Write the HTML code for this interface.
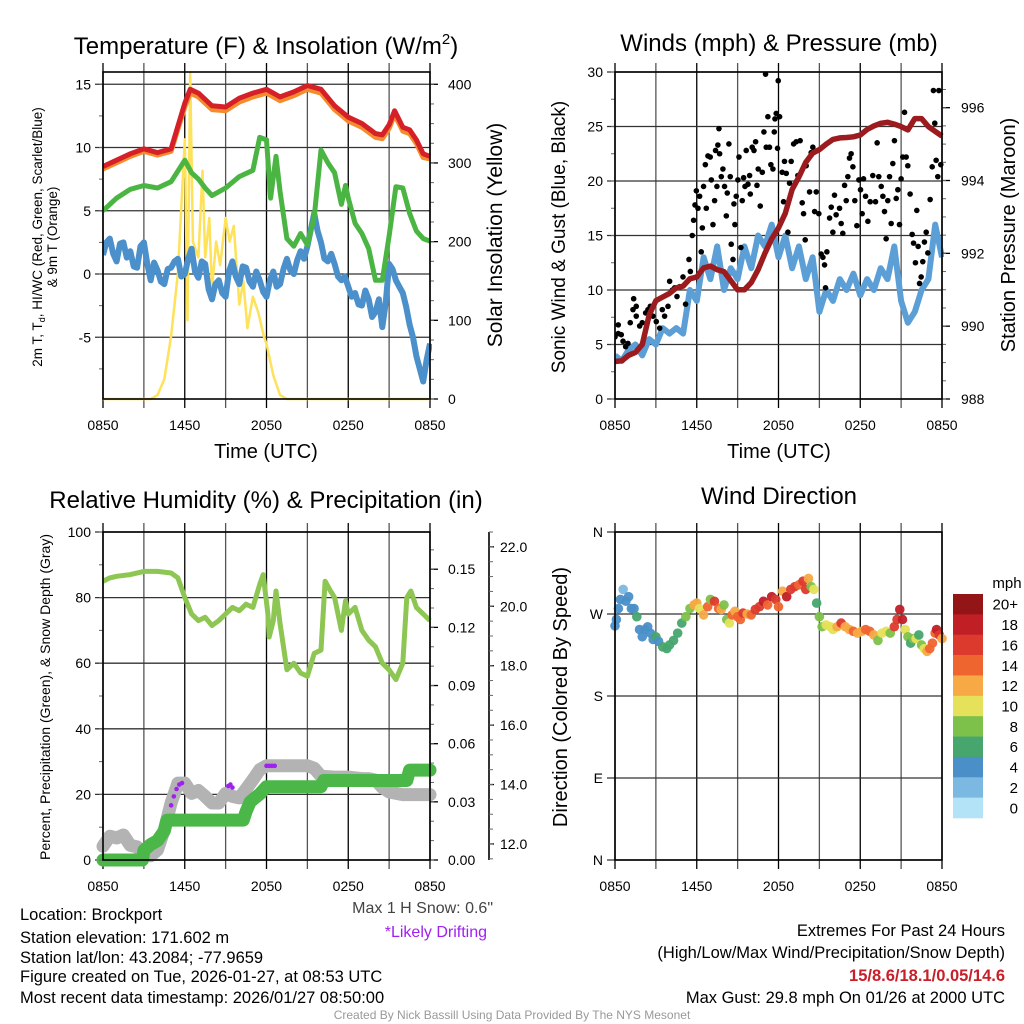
<!DOCTYPE html>
<html><head><meta charset="utf-8"><style>
html,body{margin:0;padding:0;background:#fff;}
svg{display:block;font-family:"Liberation Sans",sans-serif;}
</style></head><body>
<svg id="fig" width="1024" height="1024" viewBox="0 0 1024 1024" xmlns="http://www.w3.org/2000/svg">
<rect x="0" y="0" width="1024" height="1024" fill="#fff"/>
<g id="layer-back"></g>
<g id="layer-data"></g>
<g id="layer-front"></g>
<g id="layer-text" fill="#000">
<text x="266" y="54" font-size="24" text-anchor="middle">Temperature (F) &amp; Insolation (W/m<tspan font-size="15" dy="-10">2</tspan><tspan dy="10">)</tspan></text>
<text x="779" y="51" font-size="24" text-anchor="middle">Winds (mph) &amp; Pressure (mb)</text>
<text x="266" y="508" font-size="24" text-anchor="middle">Relative Humidity (%) &amp; Precipitation (in)</text>
<text x="779" y="504" font-size="24" text-anchor="middle">Wind Direction</text>
<text x="266" y="458" font-size="20" text-anchor="middle">Time (UTC)</text>
<text x="779" y="458" font-size="20" text-anchor="middle">Time (UTC)</text>
<text transform="translate(42,237) rotate(-90)" font-size="13.5" text-anchor="middle">2m T, T<tspan font-size="9" dy="3">d</tspan><tspan dy="-3">, HI/WC (Red, Green, Scarlet/Blue)</tspan></text>
<text transform="translate(57,237) rotate(-90)" font-size="13.5" text-anchor="middle">&amp; 9m T (Orange)</text>
<text transform="translate(502,235) rotate(-90)" font-size="21" text-anchor="middle">Solar Insolation (Yellow)</text>
<text transform="translate(565,237) rotate(-90)" font-size="19" text-anchor="middle">Sonic Wind &amp; Gust (Blue, Black)</text>
<text transform="translate(1015,235) rotate(-90)" font-size="20" text-anchor="middle">Station Pressure (Maroon)</text>
<text transform="translate(50,697) rotate(-90)" font-size="14" text-anchor="middle">Percent, Precipitation (Green), &amp; Snow Depth (Gray)</text>
<text transform="translate(567,697) rotate(-90)" font-size="20" text-anchor="middle">Direction (Colored By Speed)</text>
<text x="1007" y="588" font-size="15" text-anchor="middle">mph</text>
<text x="20" y="920" font-size="16.5">Location: Brockport</text>
<text x="20" y="943" font-size="16.5">Station elevation: 171.602 m</text>
<text x="20" y="963" font-size="16.5">Station lat/lon: 43.2084; -77.9659</text>
<text x="20" y="982" font-size="16.5">Figure created on Tue, 2026-01-27, at 08:53 UTC</text>
<text x="20" y="1003" font-size="16.5">Most recent data timestamp: 2026/01/27 08:50:00</text>
<text x="493" y="913" font-size="16" text-anchor="end" fill="#444">Max 1 H Snow: 0.6"</text>
<text x="487" y="937" font-size="16" text-anchor="end" fill="#a020f0">*Likely Drifting</text>
<text x="1005" y="936" font-size="16.5" text-anchor="end">Extremes For Past 24 Hours</text>
<text x="1005" y="958" font-size="16.5" text-anchor="end">(High/Low/Max Wind/Precipitation/Snow Depth)</text>
<text x="1005" y="981" font-size="16.5" font-weight="bold" text-anchor="end" fill="#c8202a">15/8.6/18.1/0.05/14.6</text>
<text x="1005" y="1003" font-size="16.5" text-anchor="end">Max Gust: 29.8 mph On 01/26 at 2000 UTC</text>
<text x="512" y="1019" font-size="12" text-anchor="middle" fill="#999">Created By Nick Bassill Using Data Provided By The NYS Mesonet</text>
</g>
</svg>
<script>
// ===== DATA =====
const xTickHours = [0, 6, 12, 18, 24];
const xTickLabels = ["0850", "1450", "2050", "0250", "0850"];
// Temperature panel
const tempTimes = [0,1,2,3,4,5,6,6.4,7,8,9,10,11,12,13,14,15,16,17,18,19,20,20.5,21,21.4,22,22.5,23,23.5,24];
const tempValues = [8.5,9.0,9.5,9.9,9.6,9.9,13.5,14.6,14.3,13.3,13.2,13.9,14.3,14.6,14.0,14.4,14.9,14.6,13.3,12.4,11.9,11.1,11.0,11.8,12.9,11.6,11.4,10.6,9.5,9.3];
const temp9mValues = [8.3,8.8,9.3,9.7,9.4,9.7,13.2,14.3,14.0,13.0,12.9,13.6,14.0,14.3,13.7,14.1,14.6,14.3,13.0,12.1,11.6,10.8,10.7,11.5,12.6,11.3,11.1,10.3,9.2,9.1];
const dewTimes = [0,1,2,3,4,5,6,6.5,7,7.5,8,9,10,11,11.5,12,12.3,12.7,13,13.5,14,14.5,15,15.5,16,16.5,17,17.5,17.8,18,18.5,19,19.5,20,20.5,21,21.5,22,22.5,23,23.5,24];
const dewValues = [5.0,6.0,6.7,7.0,6.8,7.3,9.0,8.0,7.5,6.8,6.2,6.8,7.7,8.2,10.8,10.6,6.0,9.3,6.5,2.8,2.2,3.2,2.3,4.5,9.8,8.8,8.0,5.5,7.0,6.0,4.0,3.2,2.0,-0.5,-0.5,3.0,6.9,6.8,4.8,3.4,2.8,2.6];
const chillTimes = [0,0.25,0.5,0.75,1,1.25,1.5,1.75,2,2.25,2.5,2.75,3,3.25,3.5,3.75,4,4.25,4.5,4.75,5,5.25,5.5,5.75,6,6.25,6.5,6.75,7,7.25,7.5,7.75,8,8.25,8.5,8.75,9,9.25,9.5,9.75,10,10.25,10.5,10.75,11,11.25,11.5,11.75,12,12.25,12.5,12.75,13,13.25,13.5,13.75,14,14.25,14.5,14.75,15,15.25,15.5,15.75,16,16.25,16.5,16.75,17,17.25,17.5,17.75,18,18.25,18.5,18.75,19,19.25,19.5,19.75,20,20.25,20.5,20.75,21,21.25,21.5,21.75,22,22.25,22.5,22.75,23,23.25,23.5,23.75,24];
const chillValues = [1.5,2.5,2.8,1.6,1.0,2.4,2.5,1.3,1.8,0.6,0.5,2.2,2.5,0.8,-0.5,0.9,0.3,-0.6,-0.8,0.4,0.5,1.0,1.2,-0.2,0.0,1.2,2.0,0.2,-0.3,1.0,0.8,-1.2,-2.0,-0.8,-0.5,-1.5,-1.8,0.2,1.0,-0.2,-0.8,0.6,0.5,-0.6,-1.0,0.2,-0.5,-1.4,-1.8,-0.5,0.2,-1.0,-0.8,0.4,1.2,0.3,0.0,1.1,1.8,1.2,2.2,3.5,4.8,3.4,2.5,1.2,1.0,1.6,0.8,-0.2,-0.5,-0.2,-1.0,-1.8,-1.5,-2.4,-2.5,-1.3,-2.0,-3.4,-3.0,-2.0,-4.2,-2.3,0.8,0.4,-0.5,-1.0,-1.5,-2.6,-4.0,-5.0,-6.5,-7.5,-8.5,-6.8,-5.5];
const solarTimes = [0,3.5,4,4.5,5,5.5,6,6.2,6.4,6.6,7,7.3,7.5,7.8,8,8.3,8.6,9,9.3,9.6,10,10.3,10.6,11,11.4,11.8,12,12.5,13,13.5,24];
const solarValues = [0,0,5,25,80,160,330,100,415,200,180,290,180,230,140,200,170,230,200,220,120,150,90,130,110,80,70,30,5,0,0];
const tempLeftTicks = [-5,0,5,10,15];
const solarTicks = [0,100,200,300,400];
// Wind panel
const windTimes = [0,0.5,1,1.5,2,2.5,3,3.5,4,4.5,5,5.5,6,6.5,7,7.5,8,8.5,9,9.5,10,10.5,11,11.5,12,12.5,13,13.5,14,14.5,15,15.5,16,16.5,17,17.5,18,18.5,19,19.5,20,20.5,21,21.5,22,22.5,23,23.5,24];
const windValues = [4,3.5,4.5,5,4,5.5,5,6.5,6,6.5,6,10,9,13,11,14,10,12,11,14,12,15,14,16,13,15,12,14,11,13,8,10,9,11,10,11.5,9.5,11,10,12,11,14,9,7,8,10,11,16,13];
const gustTimes = [0.0,0.24,0.24,0.46,0.59,0.78,0.95,1.12,1.32,1.37,1.56,1.56,1.81,2.0,2.25,2.42,2.59,2.79,3.03,3.28,3.47,3.64,3.89,4.01,4.21,4.38,4.55,4.74,4.99,5.18,5.43,5.53,5.67,5.77,5.87,5.97,6.09,6.21,6.33,6.41,6.5,6.63,6.7,6.82,6.99,7.07,7.19,7.31,7.38,7.48,7.55,7.63,7.68,7.8,7.92,8.04,8.17,8.24,8.36,8.46,8.53,8.66,8.73,8.8,8.9,9.02,9.1,9.24,9.34,9.44,9.54,9.63,9.76,9.88,9.93,10.07,10.2,10.32,10.42,10.51,10.66,10.81,10.93,11.05,11.1,11.22,11.34,11.44,11.59,11.69,11.74,11.83,11.93,11.98,12.08,12.27,12.37,12.44,12.57,12.69,12.81,12.93,13.11,13.3,13.42,13.59,13.74,13.84,13.96,14.03,14.28,14.4,14.52,14.65,14.77,14.96,15.13,15.26,15.38,15.45,15.55,15.75,15.87,15.99,16.11,16.23,16.48,16.6,16.72,16.85,16.97,17.09,17.21,17.33,17.46,17.6,17.75,17.9,18.02,18.14,18.24,18.39,18.56,18.73,18.92,19.12,19.24,19.36,19.54,19.66,19.78,19.9,20.02,20.15,20.27,20.39,20.51,20.64,20.76,20.88,21.0,21.12,21.25,21.37,21.49,21.66,21.81,21.91,22.05,22.15,22.25,22.35,22.47,22.59,22.71,22.84,22.96,23.13,23.28,23.37,23.47,23.57,23.69,23.77,23.91];
const gustValues = [5.7,6.0,6.8,5.9,5.3,4.8,5.1,7.0,8.2,9.2,8.5,7.6,6.7,7.0,7.9,8.2,8.5,7.6,7.1,6.5,8.2,7.6,8.5,10.8,10.0,10.2,9.4,10.3,11.2,8.7,12.8,11.7,15.0,16.4,17.8,19.1,17.5,18.6,13.5,15.7,19.5,21.5,17.5,22.3,22.2,20.1,16.0,18.2,22.8,19.5,23.3,24.8,22.5,20.4,21.1,19.5,16.8,18.9,23.4,20.4,14.2,12.8,17.9,16.0,18.6,20.1,22.2,13.9,18.2,20.3,19.5,22.8,19.7,20.5,18.8,23.1,22.8,23.6,19.6,21.1,17.7,20.8,24.5,29.8,23.1,25.9,23.1,21.5,21.1,24.5,25.7,26.2,23.0,29.2,25.9,20.8,18.1,21.8,20.7,15.3,19.8,21.8,23.4,23.6,20.5,23.7,18.0,17.0,14.6,21.4,19.0,22.6,23.1,17.2,19.0,17.0,13.3,13.0,12.3,10.2,13.5,16.6,17.6,15.3,18.7,16.9,17.5,16.1,15.2,19.6,18.2,20.4,22.1,22.5,21.3,18.2,15.9,20.1,19.2,17.0,20.2,18.6,16.3,18.1,20.5,18.1,23.5,20.4,19.5,18.6,17.2,14.7,18.2,20.4,16.1,21.6,23.7,18.4,19.2,16.0,20.2,22.2,26.3,22.2,21.4,18.8,15.1,14.3,12.5,17.3,14.0,10.6,11.2,12.6,14.4,15.3,13.4,18.3,21.3,28.3,25.3,21.9,20.4,28.3,21.5];
const pressTimes = [0,0.5,1,1.5,2,2.5,3,3.5,4,4.5,5,5.5,6,6.5,7,7.5,8,8.5,9,9.5,10,10.5,11,11.5,12,12.5,13,13.5,14,14.5,15,15.5,16,16.5,17,17.5,18,18.5,19,19.5,20,20.5,21,21.5,22,22.5,23,23.5,24];
const pressValues = [989.03,989.05,989.2,989.28,989.5,990.3,990.7,990.8,990.9,991.05,991.1,991.3,991.35,991.6,991.65,991.55,991.5,991.25,991.0,991.0,991.2,991.55,992.0,992.4,992.7,993.1,993.75,994.1,994.5,994.75,994.85,995.0,995.13,995.17,995.18,995.2,995.25,995.4,995.5,995.57,995.6,995.55,995.48,995.39,995.7,995.7,995.48,995.35,995.22];
const windTicks = [0,5,10,15,20,25,30];
const pressTicks = [988,990,992,994,996];
// Humidity panel
const rhTimes = [0,0.5,1,2,3,4,5,5.5,6,6.5,7,7.5,8,8.5,9,9.5,10,10.5,11,11.5,11.76,12.1,12.2,12.5,12.7,13,13.5,14,14.5,15,15.5,16,16.3,16.7,17,17.5,17.8,18,18.5,19,19.5,20,20.5,21,21.5,22,22.3,22.6,23,23.5,24];
const rhValues = [85,86,86.5,87,88,88,87.5,86,80,75,73,74,71.5,73,75,77,76,78,77,84,87,75,68,73,82,72,58,60,57,56,63,64,85,82,80,70,79,75,77,70,67,65,60,58,55,60,80,82,77,75,73];
const snowTimes = [0,0.5,1,1.5,2,2.5,3,3.5,4,4.5,5,5.5,6,6.5,7,7.5,8,8.5,9,9.5,10,10.5,11,11.5,12,13,14,15,15.5,16,17,18,19,19.5,20,20.5,21,22,23,23.5,24];
const snowValues = [11.92,12.26,12.2,12.3,11.95,11.9,11.65,11.6,11.8,12.48,13.38,14.05,14.05,13.7,13.8,13.6,13.38,13.38,13.7,13.6,13.55,13.85,14.16,14.5,14.63,14.63,14.63,14.63,14.55,14.28,14.25,14.25,14.2,14.2,14.15,13.9,13.75,13.66,13.66,13.66,13.66];
const driftTimes = [4.8,5.0,5.2,5.4,5.6,5.8,9.2,9.35,9.5,12.0,12.2,12.4,12.6];
const driftValues = [12.9,13.3,13.6,13.85,14.0,14.05,13.95,14.0,13.9,14.63,14.63,14.63,14.63];
const precipTimes = [0,2.9,3.0,3.5,4.0,4.5,4.7,10.3,10.5,10.8,11.5,12.0,16.0,16.2,22.3,22.5,24];
const precipValues = [0,0,0.005,0.008,0.01,0.015,0.0206,0.0206,0.025,0.03,0.034,0.0378,0.0378,0.041,0.041,0.0464,0.0464];
const rhTicks = [0,20,40,60,80,100];
const precipTicks = [0,0.03,0.06,0.09,0.12,0.15];
const precipTickLabels = ["0.00","0.03","0.06","0.09","0.12","0.15"];
const snowTicks = [12,14,16,18,20,22];
const snowTickLabels = ["12.0","14.0","16.0","18.0","20.0","22.0"];
// Direction panel
const dirTimes = [0,0.1,0.25,0.4,0.6,0.8,1.0,1.2,1.4,1.6,1.8,2.0,2.2,2.4,2.6,2.8,3.0,3.2,3.5,3.8,4.0,4.3,4.6,4.9,5.2,5.5,5.8,6.0,6.2,6.5,6.8,7.0,7.3,7.6,7.8,8.0,8.2,8.4,8.6,8.8,9.0,9.2,9.4,9.7,10.0,10.3,10.6,10.9,11.2,11.5,11.8,12.0,12.3,12.6,12.9,13.2,13.5,13.8,14.0,14.2,14.4,14.6,14.8,15.0,15.2,15.5,15.8,16.0,16.3,16.6,16.9,17.2,17.5,17.8,18.1,18.4,18.7,19.0,19.3,19.6,19.9,20.2,20.5,20.7,20.9,21.1,21.3,21.5,21.7,21.9,22.1,22.3,22.5,22.7,22.9,23.1,23.3,23.5,23.6,23.8,24];
const dirValues = [257,264,276,286,297,284,289,276,276,267,253,245,253,256,249,242,245,240,234,232,236,241,249,260,267,276,280,282,276,269,278,286,284,276,275,280,264,260,269,273,267,264,271,270,269,275,278,284,280,289,286,278,295,289,297,300,302,306,297,309,300,297,282,267,256,258,256,253,256,260,256,253,251,249,251,253,251,247,241,249,251,249,256,264,275,264,253,245,238,243,243,247,236,232,229,232,238,249,253,247,243];
const dirSpeeds = [4,4,4,4,2,4,4,4,4,6,4,4,4,4,4,4,6,4,6,6,6,6,6,6,8,8,12,12,10,12,14,8,16,14,12,8,8,10,14,12,14,14,16,12,14,16,16,18,14,18,16,14,12,18,16,16,14,16,16,12,8,10,6,8,8,10,10,10,12,16,12,12,14,12,12,14,14,12,8,10,10,8,16,16,18,18,10,8,6,8,10,6,8,10,12,14,14,14,18,16,12];
const speedColors = ["#b3e3f7","#7bb8e2","#4a8fc7","#47a56e","#7dc14a","#e5e15a","#f6a944","#ef6530","#dc3a2c","#c11f26","#931518"];
const speedLabels = ["0","2","4","6","8","10","12","14","16","18","20+"];
const dirTicks = [0,90,180,270,360];
const dirTickLabels = ["N","E","S","W","N"];

// ===== DRAWING =====
const NS = "http://www.w3.org/2000/svg";
const back = document.getElementById('layer-back');
const dataL = document.getElementById('layer-data');
const front = document.getElementById('layer-front');
function mk(tag, parent, attrs) {
  const e = document.createElementNS(NS, tag);
  for (const k in attrs) e.setAttribute(k, attrs[k]);
  parent.appendChild(e);
  return e;
}
function lin(d0, d1, r0, r1) { return v => r0 + (v - d0) * (r1 - r0) / (d1 - d0); }

const panels = {
  p1: {x0:103, x1:430, y0:72, y1:399},
  p2: {x0:615, x1:942, y0:72, y1:399},
  p3: {x0:103, x1:430, y0:532, y1:860},
  p4: {x0:615, x1:942, y0:532, y1:860}
};

function drawXAxis(p, key) {
  const xs = lin(0, 24, p.x0, p.x1);
  for (let h = 0; h <= 24; h += 3) {
    const g = mk('line', back, {x1: xs(h), x2: xs(h), y1: p.y0 - 9, y2: p.y1 + 9, stroke: (h % 6 === 0) ? '#000' : '#555', 'stroke-width': 1.3});
    
    
  }
  xTickHours.forEach((h, i) => {
    const t = mk('text', front, {x: xs(h), y: p.y1 + 31, 'font-size': 14, 'text-anchor': 'middle'});
    t.textContent = xTickLabels[i];
    
    
  });
  return xs;
}
function drawFrame(p, key) {
  const r = mk('rect', front, {x: p.x0, y: p.y0, width: p.x1 - p.x0, height: p.y1 - p.y0, fill: 'none', stroke: '#000', 'stroke-width': 1.6});
  
  
}
function leftAxis(p, ys, ticks, labels, key, grid, minorStep, lo, hi) {
  ticks.forEach((v, i) => {
    const y = ys(v);
    if (grid) {
      const g = mk('line', back, {x1: p.x0 - 8, x2: p.x1, y1: y, y2: y, stroke: '#333', 'stroke-width': 1.3});
      
      
    } else {
      mk('line', front, {x1: p.x0 - 8, x2: p.x0, y1: y, y2: y, stroke: '#000', 'stroke-width': 1.3});
    }
    const t = mk('text', front, {x: p.x0 - 12, y: y + 5, 'font-size': 14, 'text-anchor': 'end'});
    t.textContent = labels ? labels[i] : String(v);
    
    
  });
  if (minorStep) for (let v = lo; v <= hi + 1e-9; v += minorStep) {
    mk('line', front, {x1: p.x0 - 4, x2: p.x0, y1: ys(v), y2: ys(v), stroke: '#666', 'stroke-width': 1});
  }
}
function rightAxis(axX, ys, ticks, labels, key, minorStep, lo, hi, labelX, tickLen) {
  const tl = tickLen || 8;
  ticks.forEach((v, i) => {
    const y = ys(v);
    mk('line', front, {x1: axX, x2: axX + tl, y1: y, y2: y, stroke: '#000', 'stroke-width': 1.3});
    const t = mk('text', front, {x: labelX, y: y + 5, 'font-size': 14, 'text-anchor': 'start'});
    t.textContent = labels ? labels[i] : String(v);
    
    
  });
  if (minorStep) for (let v = lo; v <= hi + 1e-9; v += minorStep) {
    mk('line', front, {x1: axX, x2: axX + 4, y1: ys(v), y2: ys(v), stroke: '#666', 'stroke-width': 1});
  }
}
function pathFrom(xs, ys, times, vals) {
  return times.map((t, i) => (i ? 'L' : 'M') + xs(t).toFixed(1) + ',' + ys(vals[i]).toFixed(1)).join(' ');
}
function clip(id, p) {
  let defs = document.getElementById('defs');
  if (!defs) { defs = mk('defs', document.getElementById('fig'), {id: 'defs'}); }
  const c = mk('clipPath', defs, {id: id});
  mk('rect', c, {x: p.x0, y: p.y0 - 2, width: p.x1 - p.x0 + 2, height: p.y1 - p.y0 + 4});
  return 'url(#' + id + ')';
}

// ---- Panel 1: temperature ----
(function () {
  const p = panels.p1;
  const xs = drawXAxis(p, 'temp');
  const ys = lin(-9.88, 15.97, p.y1, p.y0);
  const ysSolar = lin(0, 415.6, p.y1, p.y0);
  leftAxis(p, ys, tempLeftTicks, null, 'temp', true, 2.5, -7.5, 15);
  rightAxis(p.x1, ysSolar, solarTicks, null, 'solar', 25, 0, 400, 448);
  const cp = clip('c1', p);
  const g = mk('g', dataL, {'clip-path': cp});
  const sol = mk('path', g, {d: pathFrom(xs, ysSolar, solarTimes, solarValues), fill: 'none', stroke: '#fde25a', 'stroke-width': 2.5, 'stroke-linejoin': 'round'});
  
  
  const wc = mk('path', g, {d: pathFrom(xs, ys, chillTimes, chillValues), fill: 'none', stroke: '#4b8fcb', 'stroke-width': 6, 'stroke-linejoin': 'round'});
  
  
  const dw = mk('path', g, {d: pathFrom(xs, ys, dewTimes, dewValues), fill: 'none', stroke: '#4bb543', 'stroke-width': 5, 'stroke-linejoin': 'round'});
  
  
  const t9 = mk('path', g, {d: pathFrom(xs, ys, tempTimes, temp9mValues), fill: 'none', stroke: '#f48c2e', 'stroke-width': 5, 'stroke-linejoin': 'round'});
  
  
  const t2 = mk('path', g, {d: pathFrom(xs, ys, tempTimes, tempValues), fill: 'none', stroke: '#d62027', 'stroke-width': 5, 'stroke-linejoin': 'round'});
  
  
  drawFrame(p, 'temp');
})();

// ---- Panel 2: winds ----
(function () {
  const p = panels.p2;
  const xs = drawXAxis(p, 'winds');
  const ys = lin(0, 30, p.y1, p.y0);
  const yp = lin(988, 996.98, p.y1, p.y0);
  leftAxis(p, ys, windTicks, null, 'winds', true, 2.5, 0, 30);
  rightAxis(p.x1, yp, pressTicks, null, 'pressure', 0.5, 988, 996.5, 961);
  const cp = clip('c2', p);
  const g = mk('g', dataL, {'clip-path': cp});
  const w = mk('path', g, {d: pathFrom(xs, ys, windTimes, windValues), fill: 'none', stroke: '#5b9fd6', 'stroke-width': 6, 'stroke-linejoin': 'round'});
  
  
  gustTimes.forEach((t, i) => {
    const c = mk('circle', g, {cx: xs(t), cy: ys(gustValues[i]), r: 2.8, fill: '#000'});
    
    
  });
  const pr = mk('path', g, {d: pathFrom(xs, yp, pressTimes, pressValues), fill: 'none', stroke: '#9b1b1f', 'stroke-width': 5.5, 'stroke-linejoin': 'round'});
  
  
  drawFrame(p, 'winds');
})();

// ---- Panel 3: humidity ----
(function () {
  const p = panels.p3;
  const xs = drawXAxis(p, 'humidity');
  const ys = lin(0, 100, p.y1, p.y0);
  const ypr = lin(0, 0.1692, p.y1, p.y0);
  const ysn = lin(11.46, 22.5, p.y1, p.y0);
  leftAxis(p, ys, rhTicks, null, 'humidity', true, 10, 0, 100);
  rightAxis(p.x1, ypr, precipTicks, precipTickLabels, 'precip', 0.01, 0, 0.16, 448);
  const ax = mk('line', front, {x1: 489, x2: 489, y1: p.y0, y2: p.y1, stroke: '#000', 'stroke-width': 1.6});
  
  
  rightAxis(489, ysn, snowTicks, snowTickLabels, 'snow', 0.5, 11.5, 22.5, 500, 5);
  const g = mk('g', dataL, {});
  const sn = mk('path', g, {d: pathFrom(xs, ysn, snowTimes, snowValues), fill: 'none', stroke: '#b3b3b3', 'stroke-width': 13, 'stroke-linejoin': 'round', 'stroke-linecap': 'round'});
  
  
  driftTimes.forEach((t, i) => {
    const c = mk('circle', g, {cx: xs(t), cy: ysn(driftValues[i]), r: 2.3, fill: '#a020f0'});
    
    
  });
  const pc = mk('path', g, {d: pathFrom(xs, ypr, precipTimes, precipValues), fill: 'none', stroke: '#4bb749', 'stroke-width': 13, 'stroke-linejoin': 'round', 'stroke-linecap': 'round'});
  
  
  const rh = mk('path', g, {d: pathFrom(xs, ys, rhTimes, rhValues), fill: 'none', stroke: '#8dc653', 'stroke-width': 5, 'stroke-linejoin': 'round'});
  
  
  drawFrame(p, 'humidity');
})();

// ---- Panel 4: direction ----
(function () {
  const p = panels.p4;
  const xs = drawXAxis(p, 'direction');
  const ys = lin(0, 360, p.y1, p.y0);
  leftAxis(p, ys, dirTicks, dirTickLabels, 'direction', true, 0, 0, 0);
  const g = mk('g', dataL, {});
  dirTimes.forEach((t, i) => {
    const idx = Math.min(10, Math.floor(dirSpeeds[i] / 2));
    const c = mk('circle', g, {cx: xs(t), cy: ys(dirValues[i]), r: 4.8, fill: speedColors[idx], 'fill-opacity': 0.95});
    
    
  });
  drawFrame(p, 'direction');
  const cbTop = 594, cbH = 224 / 11;
  for (let i = 0; i < 11; i++) {
    const k = 10 - i;
    const r = mk('rect', front, {x: 953, y: cbTop + i * cbH, width: 30, height: cbH + 0.3, fill: speedColors[k]});
    
    
    const t = mk('text', front, {x: 1018, y: cbTop + i * cbH + cbH / 2 + 5.5, 'font-size': 15, 'text-anchor': 'end'});
    t.textContent = speedLabels[k];
    
    
  }
})();
</script>
</body></html>
